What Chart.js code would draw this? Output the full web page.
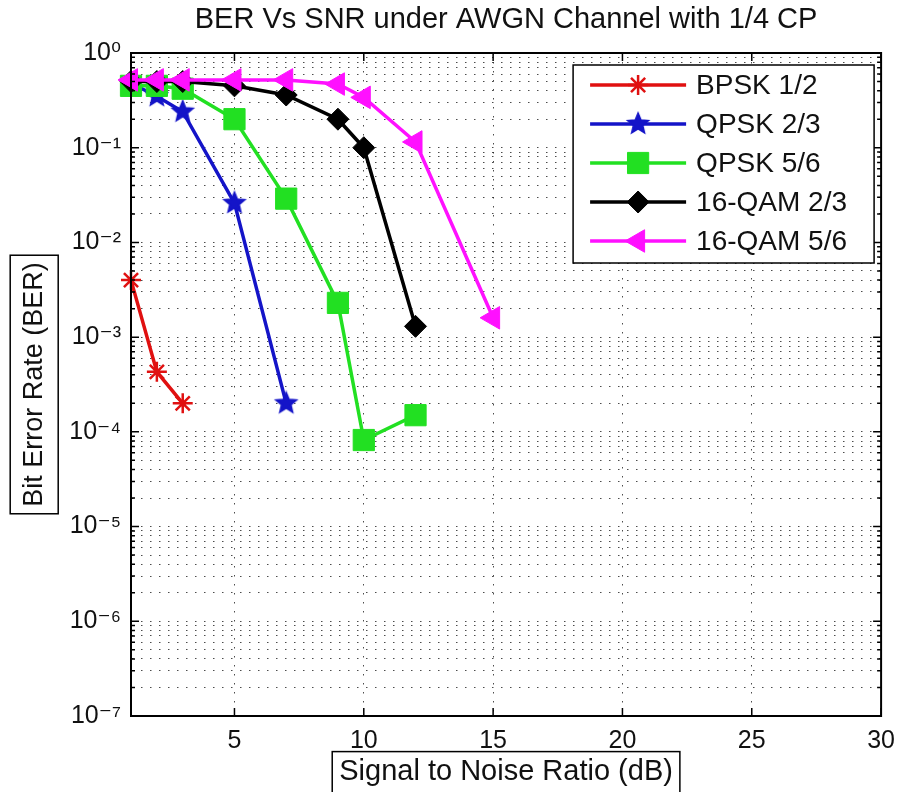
<!DOCTYPE html>
<html>
<head>
<meta charset="utf-8">
<script src="https://cdn.jsdelivr.net/npm/chart.js@4.4.1/dist/chart.umd.min.js"></script>
<style>
    html, body { margin: 0; background: #fff; }
    #wrap { width: 905px; height: 792px; position: relative; }
</style>
</head>
<body>
<div id="wrap"><canvas id="berChart"></canvas></div>
<script>
// values
const snrBpsk12 = [1, 2, 3];
const berBpsk12 = [4.0e-3, 4.3e-4, 2.0e-4];

const snrQpsk23 = [1, 2, 3, 5, 7];
const berQpsk23 = [0.48, 0.35, 0.24, 0.026, 2.0e-4];

const snrQpsk56 = [1, 2, 3, 5, 7, 9, 10, 12];
const berQpsk56 = [0.45, 0.45, 0.42, 0.2, 0.029, 2.3e-3, 8.2e-5, 1.5e-4];

const snrQam23 = [1, 2, 3, 5, 7, 9, 10, 12];
const berQam23 = [0.5, 0.5, 0.5, 0.45, 0.36, 0.2, 0.1, 1.3e-3];

const snrQam56 = [1, 2, 3, 5, 7, 9, 10, 12, 15];
const berQam56 = [0.52, 0.52, 0.52, 0.52, 0.52, 0.47, 0.34, 0.115, 1.6e-3];

const seriesNames = ['BPSK 1/2', 'QPSK 2/3', 'QPSK 5/6', '16-QAM 2/3', '16-QAM 5/6'];
const xTicks = [5, 10, 15, 20, 25, 30];
const yDecades = [1e-7, 1e-6, 1e-5, 1e-4, 1e-3, 1e-2, 1e-1, 1];

const FONT = "'Liberation Sans', Arial, 'DejaVu Sans', sans-serif";
const SUP = { '0': '\u2070', '1': '\u00b9', '2': '\u00b2', '3': '\u00b3', '4': '\u2074',
              '5': '\u2075', '6': '\u2076', '7': '\u2077', '8': '\u2078', '9': '\u2079', '-': '\u207b' };

function pts(xs, ys) {
    return xs.map((x, i) => ({ x: x, y: ys[i] }));
}

// filled five-point star, used as a point style
function pentagram(color, r) {
    const c = document.createElement('canvas');
    const s = Math.ceil(r * 2 + 4);
    c.width = c.height = s;
    const g = c.getContext('2d');
    g.beginPath();
    for (let i = 0; i < 10; i++) {
        const rad = i % 2 ? r * 0.45 : r;
        const a = -Math.PI / 2 + i * Math.PI / 5;
        g.lineTo(s / 2 + rad * Math.cos(a), s / 2 + rad * Math.sin(a));
    }
    g.closePath();
    g.fillStyle = color;
    g.fill();
    g.strokeStyle = color;
    g.lineWidth = 1.5;
    g.stroke();
    return c;
}

// minor ticks 1..9 x each decade
const yTicks = [];
yDecades.forEach((d, i) => {
    if (i === yDecades.length - 1) { yTicks.push(d); return; }
    for (let k = 1; k <= 9; k++) yTicks.push(+(k * d).toPrecision(3));
});

function isDecade(v) {
    const l = Math.log10(v);
    return Math.abs(l - Math.round(l)) < 1e-9;
}

const RED = '#e01010', BLUE = '#1414c8', GREEN = '#22e022', BLACK = '#000000', MAGENTA = '#ff10ff';

const datasets = [
    { label: seriesNames[0], data: pts(snrBpsk12, berBpsk12), borderColor: RED, backgroundColor: RED,
      pointStyle: 'star', pointRadius: 10, pointBorderWidth: 2.5, order: 5 },
    { label: seriesNames[1], data: pts(snrQpsk23, berQpsk23), borderColor: BLUE, backgroundColor: BLUE,
      pointStyle: pentagram(BLUE, 11), pointRadius: 11, order: 4 },
    { label: seriesNames[2], data: pts(snrQpsk56, berQpsk56), borderColor: GREEN, backgroundColor: GREEN,
      pointStyle: 'rect', pointRadius: 15, pointBorderWidth: 1, order: 3 },
    { label: seriesNames[3], data: pts(snrQam23, berQam23), borderColor: BLACK, backgroundColor: BLACK,
      pointStyle: 'rectRot', pointRadius: 11, pointBorderWidth: 1, order: 2 },
    { label: seriesNames[4], data: pts(snrQam56, berQam56), borderColor: MAGENTA, backgroundColor: MAGENTA,
      pointStyle: 'triangle', pointRotation: -90, pointRadius: 13, pointBorderWidth: 1, order: 1 }
];
datasets.forEach(ds => {
    ds.borderWidth = 3.5;
    ds.pointBackgroundColor = ds.backgroundColor;
    ds.pointBorderColor = ds.borderColor;
    ds.tension = 0;
    ds.clip = false;
});

const titleFont = { family: FONT, size: 29, weight: 'normal' };
const xTitleFont = { family: FONT, size: 29, weight: 'normal' };
const yTitleFont = { family: FONT, size: 27, weight: 'normal' };
const GRID = 'rgba(0,0,0,0.7)';

// box round the plot plus inward ticks, MATLAB style
const frameTicks = {
    id: 'frameTicks',
    afterDatasetsDraw(chart) {
        const { ctx, chartArea: a, scales } = chart;
        ctx.save();
        ctx.strokeStyle = '#000';
        ctx.lineWidth = 2;
        ctx.setLineDash([]);
        ctx.strokeRect(a.left, a.top, a.right - a.left, a.bottom - a.top);
        ctx.lineWidth = 1.5;
        ctx.beginPath();
        xTicks.forEach(v => {
            const x = scales.x.getPixelForValue(v);
            ctx.moveTo(x, a.bottom); ctx.lineTo(x, a.bottom - 8);
            ctx.moveTo(x, a.top); ctx.lineTo(x, a.top + 8);
        });
        yTicks.forEach(v => {
            const y = scales.y.getPixelForValue(v);
            const len = isDecade(v) ? 8 : 4;
            ctx.moveTo(a.left, y); ctx.lineTo(a.left + len, y);
            ctx.moveTo(a.right, y); ctx.lineTo(a.right - len, y);
        });
        ctx.stroke();
        ctx.restore();
    }
};

// boxes round the axis titles
const titleBoxes = {
    id: 'titleBoxes',
    afterDraw(chart) {
        const { ctx, scales } = chart;
        ctx.save();
        ctx.strokeStyle = '#000';
        ctx.lineWidth = 1.5;

        const xs = scales.x, xt = xs.options.title;
        ctx.font = xTitleFont.size + 'px ' + FONT;
        const xw = ctx.measureText(xt.text).width;
        const xcx = (xs.left + xs.right) / 2;
        const xcy = xs.bottom - (xTitleFont.size * 1.2 / 2 + xt.padding.bottom);
        ctx.strokeRect(xcx - xw / 2 - 7, xcy - 20, xw + 14, 42);

        const ys = scales.y, yt = ys.options.title;
        ctx.font = yTitleFont.size + 'px ' + FONT;
        const yw = ctx.measureText(yt.text).width;
        const ycx = ys.left + yTitleFont.size * 1.2 / 2 + yt.padding.top;
        const ycy = (ys.top + ys.bottom) / 2;
        ctx.strokeRect(ycx - 24, ycy - yw / 2 - 7, 48, yw + 14);
        ctx.restore();
    }
};

// legend drawn like the MATLAB one: line sample with marker, inside a box
const boxLegend = {
    id: 'boxLegend',
    afterDraw(chart) {
        const { ctx, chartArea: a } = chart;
        const right = a.right - 7, top = a.top + 12;
        const left = right - 301, bottom = top + 198;
        ctx.save();
        ctx.fillStyle = '#fff';
        ctx.fillRect(left, top, right - left, bottom - top);
        ctx.strokeStyle = '#000';
        ctx.lineWidth = 1.5;
        ctx.strokeRect(left, top, right - left, bottom - top);

        chart.data.datasets.forEach((ds, i) => {
            const y = top + 20 + i * 39;
            const x0 = left + 17, x1 = left + 113, xm = (x0 + x1) / 2;
            ctx.strokeStyle = ds.borderColor;
            ctx.lineWidth = 3.5;
            ctx.beginPath();
            ctx.moveTo(x0, y); ctx.lineTo(x1, y);
            ctx.stroke();
            if (typeof ds.pointStyle === 'string') {
                ctx.fillStyle = ds.pointBackgroundColor;
                ctx.strokeStyle = ds.pointBorderColor;
                ctx.lineWidth = ds.pointBorderWidth;
                Chart.helpers.drawPoint(ctx, {
                    pointStyle: ds.pointStyle,
                    rotation: ds.pointRotation || 0,
                    radius: ds.pointRadius,
                    borderWidth: ds.pointBorderWidth
                }, xm, y);
            } else {
                const img = ds.pointStyle;
                ctx.drawImage(img, xm - img.width / 2, y - img.height / 2);
            }
            ctx.fillStyle = '#111';
            ctx.font = '28px ' + FONT;
            ctx.textBaseline = 'middle';
            ctx.fillText(ds.label, left + 123, y + 1);
        });
        ctx.restore();
    }
};

new Chart(document.getElementById('berChart'), {
    type: 'line',
    data: { datasets: datasets },
    options: {
        responsive: true,
        maintainAspectRatio: false,
        animation: false,
        layout: { padding: { left: 0, right: 15, top: 0, bottom: 0 } },
        plugins: {
            legend: { display: false },
            tooltip: { enabled: false },
            title: {
                display: true,
                text: 'BER Vs SNR under AWGN Channel with 1/4 CP',
                color: '#111',
                font: titleFont,
                fullSize: false,
                padding: { top: 3, bottom: 15.2 }
            }
        },
        scales: {
            x: {
                type: 'linear',
                min: 1,
                max: 30,
                afterBuildTicks: s => { s.ticks = xTicks.map(v => ({ value: v })); },
                afterFit: s => { s.height = 76; },
                ticks: { color: '#111', font: { family: FONT, size: 25 }, padding: 10, autoSkip: false, maxRotation: 0 },
                grid: { color: GRID, lineWidth: 1, drawTicks: false },
                border: { display: true, color: '#000', width: 2, dash: [1.5, 7.5] },
                title: { display: true, text: 'Signal to Noise Ratio (dB)', color: '#111', font: xTitleFont,
                         padding: { top: 0, bottom: 3 } }
            },
            y: {
                type: 'logarithmic',
                min: 1e-7,
                max: 1,
                afterBuildTicks: s => { s.ticks = yTicks.map(v => ({ value: v, major: isDecade(v) })); },
                afterFit: s => { s.width = 131; },
                ticks: {
                    color: '#111',
                    font: { family: FONT, size: 25 },
                    padding: 10,
                    autoSkip: false,
                    callback: v => {
                        if (!isDecade(v)) return '';
                        const e = String(Math.round(Math.log10(v)));
                        return '10' + e.split('').map(c => SUP[c]).join('');
                    }
                },
                grid: { color: GRID, lineWidth: 1, drawTicks: false },
                border: { display: true, color: '#000', width: 2, dash: [1.5, 7.5] },
                title: { display: true, text: 'Bit Error Rate (BER)', color: '#111', font: yTitleFont,
                         padding: { top: 18, bottom: 0 } }
            }
        }
    },
    plugins: [frameTicks, titleBoxes, boxLegend]
});
</script>
</body>
</html>
